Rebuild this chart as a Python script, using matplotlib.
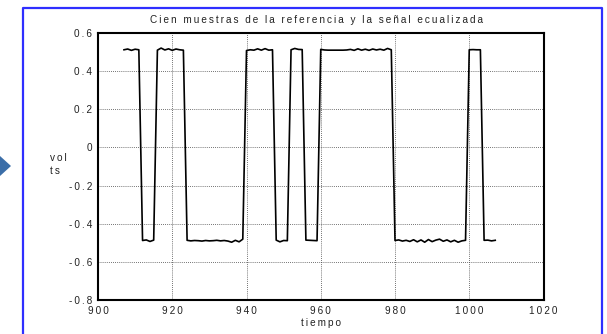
import numpy as np
import matplotlib
matplotlib.use("Agg")
import matplotlib.pyplot as plt
from matplotlib.lines import Line2D
from matplotlib.patches import Polygon

# Equalized signal: one value per sample, samples 907..1007
tiempo = np.arange(907, 1008)
senal = [
    0.512, 0.516, 0.509, 0.515, 0.512,                      # 907-911
    -0.488, -0.485, -0.493, -0.486,                         # 912-915
    0.510, 0.521, 0.511, 0.517, 0.509, 0.516, 0.512, 0.510, # 916-923
    -0.487, -0.490, -0.488, -0.489, -0.491, -0.488, -0.490, -0.489,
    -0.487, -0.490, -0.488, -0.491, -0.497, -0.487, -0.495, -0.481,  # 924-939
    0.508, 0.512, 0.510, 0.517, 0.510, 0.518, 0.510, 0.512, # 940-947
    -0.486, -0.495, -0.488, -0.489,                         # 948-951
    0.512, 0.519, 0.514, 0.513,                             # 952-955
    -0.486, -0.487, -0.488, -0.489,                         # 956-959
    0.514, 0.511, 0.510, 0.510, 0.510, 0.510, 0.510, 0.511,
    0.514, 0.509, 0.517, 0.510, 0.515, 0.509, 0.516, 0.511,
    0.515, 0.510, 0.519, 0.512,                             # 960-979
    -0.488, -0.485, -0.491, -0.487, -0.493, -0.484, -0.495, -0.485,
    -0.497, -0.483, -0.494, -0.486, -0.481, -0.492, -0.485, -0.495,
    -0.487, -0.497, -0.490, -0.487,                         # 980-999
    0.512, 0.513, 0.512, 0.512,                             # 1000-1003
    -0.487, -0.486, -0.490, -0.487,                         # 1004-1007
]

x_ticks = [900, 920, 940, 960, 980, 1000, 1020]
y_ticks = [0.6, 0.4, 0.2, 0, -0.2, -0.4, -0.6, -0.8]
y_tick_labels = ["0.6", "0.4", "0.2", "0", "-0.2", "-0.4", "-0.6", "-0.8"]

titulo = "Cien muestras de la referencia y la señal ecualizada"
etiqueta_x = "tiempo"
etiqueta_y = ["vol", "ts"]

FONT = ["Liberation Sans", "DejaVu Sans"]
FS = 7.2
TXT = "#222222"


def spaced(s, gap="\u2009"):
    """Loosely tracked text, like the old plotting output."""
    return gap.join(list(s))


W, H = 607, 334
fig = plt.figure(figsize=(W / 100, H / 100), dpi=100)
fig.patch.set_facecolor("white")

# axes box in pixel terms
left, right, top, bottom = 98, 543.5, 33, 300
ax = fig.add_axes([left / W, 1 - bottom / H, (right - left) / W, (bottom - top) / H])

ax.plot(tiempo, senal, color="black", lw=1.2)
ax.set_xlim(900, 1020)
ax.set_ylim(-0.8, 0.6)
ax.set_xticks(x_ticks)
ax.set_yticks(y_ticks)
ax.set_xticklabels([spaced(str(v)) for v in x_ticks], family=FONT, fontsize=FS, color=TXT)
ax.set_yticklabels([spaced(s) for s in y_tick_labels], family=FONT, fontsize=FS, color=TXT)
ax.tick_params(direction="in", length=0, pad=4)
ax.grid(True, color="#444444", linestyle=(0, (1, 1.5)), linewidth=0.6)
for sp in ax.spines.values():
    sp.set_linewidth(1.5)
    sp.set_color("black")

fig.text((left + right) / 2 / W - 4 / W, 1 - 20 / H, spaced(titulo), ha="center", va="center",
         family=FONT, fontsize=FS, color=TXT)
fig.text((left + right) / 2 / W, 1 - 323 / H, spaced(etiqueta_x), ha="center", va="center",
         family=FONT, fontsize=FS, color=TXT)
fig.text(50 / W, 1 - 158 / H, spaced(etiqueta_y[0]), ha="left", va="center",
         family=FONT, fontsize=FS, color=TXT)
fig.text(50 / W, 1 - 171 / H, spaced(etiqueta_y[1]), ha="left", va="center",
         family=FONT, fontsize=FS, color=TXT)

# blue slide frame (open at the bottom)
frame_color = "#2f2fff"
fx0, fx1, fy0 = 23 / W, 602 / W, 1 - 8 / H
fig.add_artist(Line2D([fx0, fx0, fx1, fx1], [0, fy0, fy0, 0], color=frame_color,
                      lw=1.6, transform=fig.transFigure))

# bullet marker at the left edge
fig.add_artist(Polygon([[-11 / W, 1 - 166 / H], [0, 1 - 156 / H], [11 / W, 1 - 166 / H],
                        [0, 1 - 176 / H]], closed=True, facecolor="#3b6ea8",
                       edgecolor="none", transform=fig.transFigure))

fig.savefig("out.png", dpi=100, facecolor="white")
